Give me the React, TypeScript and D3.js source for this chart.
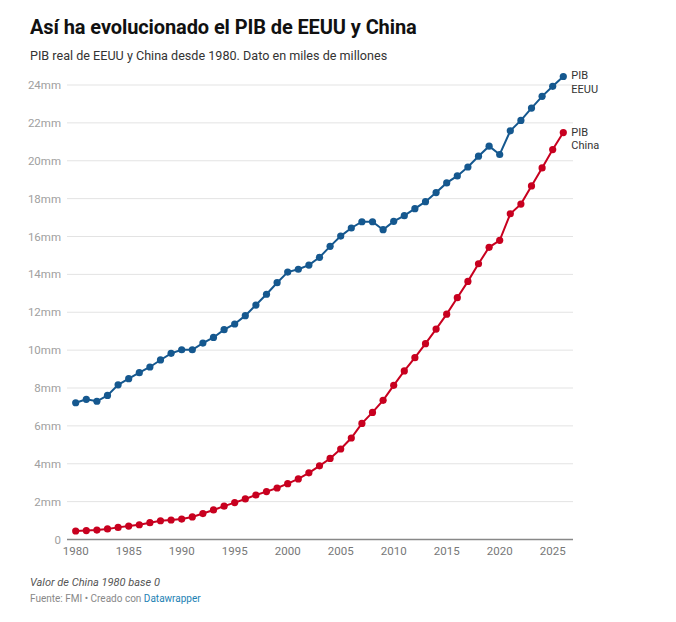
import React, { useEffect, useRef } from "react";
import * as d3 from "d3";

const years: number[] = d3.range(1980, 2027);

// PIB real, miles de millones (mm = billones en español)
const usGdp: number[] = [
  7.22, 7.4, 7.3, 7.61, 8.17, 8.49, 8.81, 9.11, 9.48, 9.83,
  10.02, 10.02, 10.37, 10.67, 11.08, 11.38, 11.82, 12.38, 12.95, 13.56,
  14.12, 14.27, 14.49, 14.9, 15.48, 16.02, 16.45, 16.78, 16.78, 16.36,
  16.8, 17.1, 17.47, 17.84, 18.32, 18.83, 19.2, 19.67, 20.24, 20.77,
  20.33, 21.58, 22.13, 22.78, 23.4, 23.93, 24.45,
];

const chinaGdp: number[] = [
  0.45, 0.47, 0.5, 0.56, 0.64, 0.71, 0.78, 0.89, 0.99, 1.03,
  1.08, 1.19, 1.37, 1.56, 1.76, 1.95, 2.14, 2.35, 2.53, 2.72,
  2.95, 3.2, 3.52, 3.89, 4.28, 4.78, 5.36, 6.13, 6.71, 7.35,
  8.14, 8.9, 9.6, 10.34, 11.11, 11.9, 12.77, 13.63, 14.56, 15.43,
  15.8, 17.2, 17.71, 18.67, 19.62, 20.59, 21.49,
];

const yTicks: number[] = [0, 2, 4, 6, 8, 10, 12, 14, 16, 18, 20, 22, 24];
const xTicks: number[] = [1980, 1985, 1990, 1995, 2000, 2005, 2010, 2015, 2020, 2025];

const seriesNames: string[][] = [["PIB", "EEUU"], ["PIB", "China"]];
const seriesColors: string[] = ["#15588f", "#c8001f"];

const W = 676;
const H = 622;
const font = "Roboto, 'Noto Sans', sans-serif";

function App() {
  const ref = useRef<SVGSVGElement>(null);

  useEffect(() => {
    document.body.style.margin = "0";
    const svg = d3.select(ref.current);
    svg.selectAll("*").remove();

    const x = d3.scaleLinear().domain([1980, 2026]).range([75.7, 563.3]);
    const y = d3.scaleLinear().domain([0, 24]).range([539.5, 85]);

    // title
    svg.append("text")
      .attr("x", 30).attr("y", 34)
      .attr("font-family", font).attr("font-size", 20).attr("font-weight", 700)
      .attr("fill", "#111")
      .attr("letter-spacing", "-0.1")
      .text("Así ha evolucionado el PIB de EEUU y China");

    svg.append("text")
      .attr("x", 30).attr("y", 60)
      .attr("font-family", font).attr("font-size", 12.6)
      .attr("fill", "#333")
      .text("PIB real de EEUU y China desde 1980. Dato en miles de millones");

    // grid + y labels
    const grid = svg.append("g");
    yTicks.forEach((t) => {
      if (t !== 0) {
        grid.append("line")
          .attr("x1", 67).attr("x2", 573)
          .attr("y1", y(t)).attr("y2", y(t))
          .attr("stroke", "#e3e3e3").attr("stroke-width", 1);
      }
      grid.append("text")
        .attr("x", 61).attr("y", y(t) + 4)
        .attr("text-anchor", "end")
        .attr("font-family", font).attr("font-size", 11.5)
        .attr("fill", "#a0a0a0")
        .text(t === 0 ? "0" : `${t}mm`);
    });

    // baseline
    svg.append("line")
      .attr("x1", 67).attr("x2", 573)
      .attr("y1", y(0)).attr("y2", y(0))
      .attr("stroke", "#888").attr("stroke-width", 1.6);

    // x labels
    xTicks.forEach((t) => {
      svg.append("text")
        .attr("x", x(t)).attr("y", 555)
        .attr("text-anchor", "middle")
        .attr("font-family", font).attr("font-size", 11.5)
        .attr("fill", "#777")
        .text(t);
    });

    const line = d3.line<number>()
      .x((d, i) => x(years[i]))
      .y((d) => y(d));

    [usGdp, chinaGdp].forEach((vals, s) => {
      const g = svg.append("g");
      g.append("path")
        .datum(vals)
        .attr("d", line)
        .attr("fill", "none")
        .attr("stroke", seriesColors[s])
        .attr("stroke-width", 2);
      g.selectAll("circle")
        .data(vals)
        .join("circle")
        .attr("cx", (d, i) => x(years[i]))
        .attr("cy", (d) => y(d))
        .attr("r", 3.6)
        .attr("fill", seriesColors[s]);

      // direct label
      const last = vals[vals.length - 1];
      const lbl = g.append("text")
        .attr("font-family", font).attr("font-size", 11)
        .attr("fill", "#333");
      seriesNames[s].forEach((n, k) => {
        lbl.append("tspan")
          .attr("x", x(2026) + 8)
          .attr("y", y(last) + 3 + k * 13.5)
          .text(n);
      });
    });

    // notes
    svg.append("text")
      .attr("x", 30).attr("y", 586)
      .attr("font-family", font).attr("font-size", 11).attr("font-style", "italic")
      .attr("fill", "#555")
      .text("Valor de China 1980 base 0");

    const src = svg.append("text")
      .attr("x", 30).attr("y", 602)
      .attr("font-family", font).attr("font-size", 10)
      .attr("fill", "#888");
    src.append("tspan").text("Fuente: FMI • Creado con ");
    src.append("tspan").attr("fill", "#1d81b4").text("Datawrapper");
  }, []);

  return (
    <div style={{ position: "absolute", left: 0, top: 0 }}>
      <svg ref={ref} width={W} height={H} style={{ display: "block", background: "#fff" }}></svg>
    </div>
  );
}

export default App;
